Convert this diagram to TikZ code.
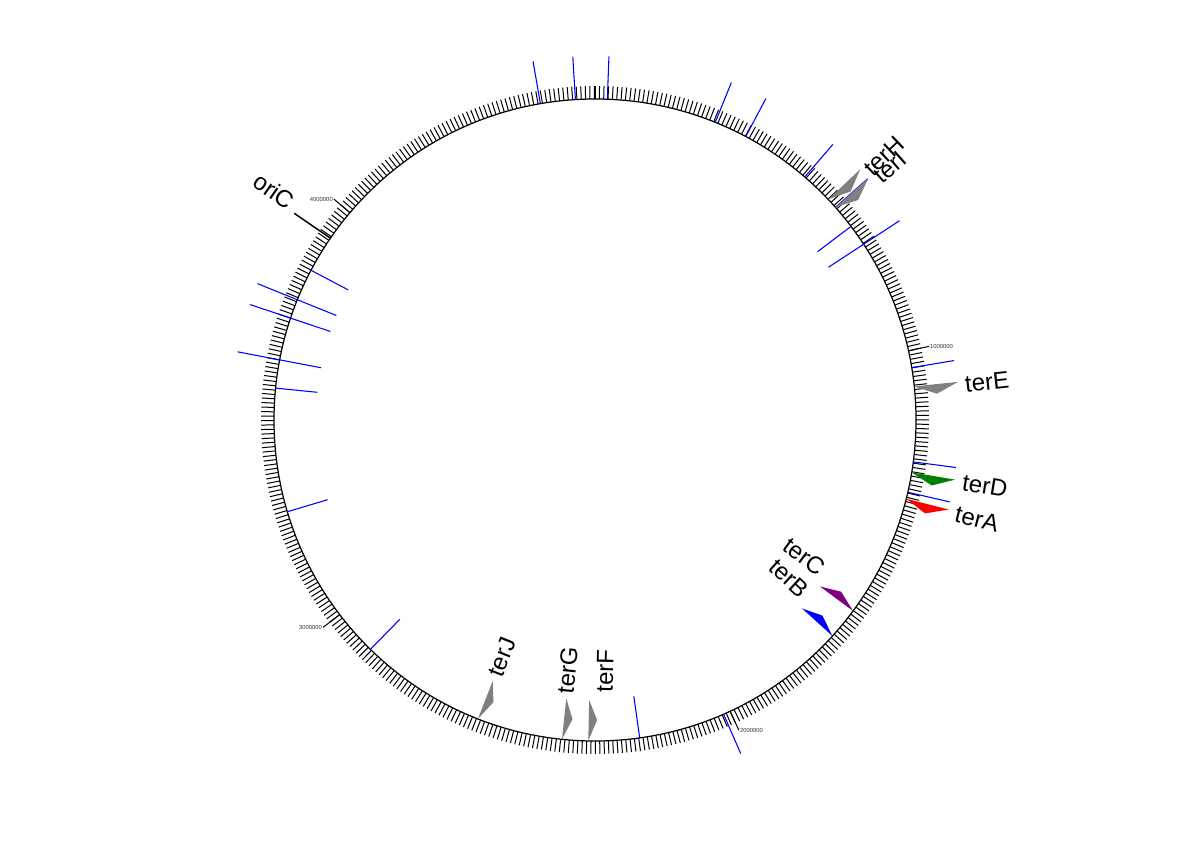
\documentclass[tikz,border=0pt]{standalone}
\usepackage{fontspec}
\setmainfont{Liberation Sans}
\definecolor{terpurple}{RGB}{128,0,128}
\definecolor{tergreen}{RGB}{0,128,0}
\definecolor{tergray}{RGB}{128,128,128}
\begin{document}
\begin{tikzpicture}[x=0.75pt,y=-0.75pt,
  terlabel/.style={inner sep=0pt,font=\fontsize{18}{20}\selectfont},
  ticklabel/.style={inner sep=0.5pt,font=\fontsize{4.4}{5}\selectfont,text=black!80},
  tickline/.style={black,line width=0.75pt},
  featline/.style={blue,line width=0.8pt},
  terfill/.style={fill=#1,draw=none}]
\useasboundingbox (0,0) rectangle (1191,842);
\def\cx{595}\def\cy{420}\def\R{321}
% outer circle
\draw[black,line width=0.9pt] (\cx,\cy) circle[radius=\R];
% minor ticks every 10 kb
\foreach \i in {0,...,464}{
  \pgfmathsetmacro\a{\i*0.7755937}
  \draw[tickline] ({\cx+\R*sin(\a)},{\cy-\R*cos(\a)}) -- ({\cx+334*sin(\a)},{\cy-334*cos(\a)});
}
% major ticks
\foreach \m/\anc in {1/west,2/west,3/east,4/east}{
  \pgfmathsetmacro\a{\m*77.55937}
  \draw[tickline] ({\cx+\R*sin(\a)},{\cy-\R*cos(\a)}) -- ({\cx+342*sin(\a)},{\cy-342*cos(\a)})
     node[ticklabel,anchor=\anc] (maj\m) {\m000000};
}
% blue features: outward
\foreach \a in {350.2,356.5,2.2,22.0,28.0,40.8,48.5,80.6,97.5,103.0,156.4}{
  \draw[featline] ({\cx+\R*sin(\a)},{\cy-\R*cos(\a)}) -- ({\cx+364*sin(\a)},{\cy-364*cos(\a)});
}
% blue features: inward
\foreach \a in {52.9,172.0,224.4,253.4,297.8,275.7}{
  \draw[featline] ({\cx+279*sin(\a)},{\cy-279*cos(\a)}) -- ({\cx+\R*sin(\a)},{\cy-\R*cos(\a)});
}
% blue features: both sides
\foreach \a in {56.8,292.0,288.5,280.8}{
  \draw[featline] ({\cx+279*sin(\a)},{\cy-279*cos(\a)}) -- ({\cx+364*sin(\a)},{\cy-364*cos(\a)});
}
% oriC
\draw[black,line width=1.1pt] ({\cx+\R*sin(304.5)},{\cy-\R*cos(304.5)}) -- ({\cx+365*sin(304.5)},{\cy-365*cos(304.5)});
\node[terlabel,rotate=-34.5] (oric) at (274,191) {oriC};
% ter sites outside
\foreach \a/\c in {104.2/red,99.4/tergreen,84.0/tergray,46.6/tergray,48.5/tergray}{
  \fill[terfill=\c] ({\cx+\R*sin(\a)},{\cy-\R*cos(\a)}) -- ({\cx+365*sin(\a)},{\cy-365*cos(\a)})
     -- ({\cx+343*sin(\a+1.6)},{\cy-343*cos(\a+1.6)}) -- cycle;
}
% ter sites inside
\foreach \a/\c in {126.5/terpurple,132.3/blue,181.2/tergray,185.9/tergray,201.4/tergray}{
  \fill[terfill=\c] ({\cx+\R*sin(\a)},{\cy-\R*cos(\a)}) -- ({\cx+280*sin(\a)},{\cy-280*cos(\a)})
     -- ({\cx+300*sin(\a-1.6)},{\cy-300*cos(\a-1.6)}) -- cycle;
}
% labels
\node[terlabel,rotate=6.0] (terE) at (987,382) {terE};
\node[terlabel,rotate=-9.4] (terD) at (985,486) {terD};
\node[terlabel,rotate=-14.2] (terA) at (977,519) {terA};
\node[terlabel,rotate=43.4] (terH) at (884,156) {terH};
\node[terlabel,rotate=41.5] (terI) at (890,167) {terI};
\node[terlabel,rotate=-36.5] (terC) at (804.5,556.5) {terC};
\node[terlabel,rotate=-42.3] (terB) at (789,578) {terB};
\node[terlabel,rotate=68.6] (terJ) at (502,657) {terJ};
\node[terlabel,rotate=84.1] (terG) at (567.5,670) {terG};
\node[terlabel,rotate=88.8] (terF) at (605,671) {terF};
\end{tikzpicture}
\end{document}
